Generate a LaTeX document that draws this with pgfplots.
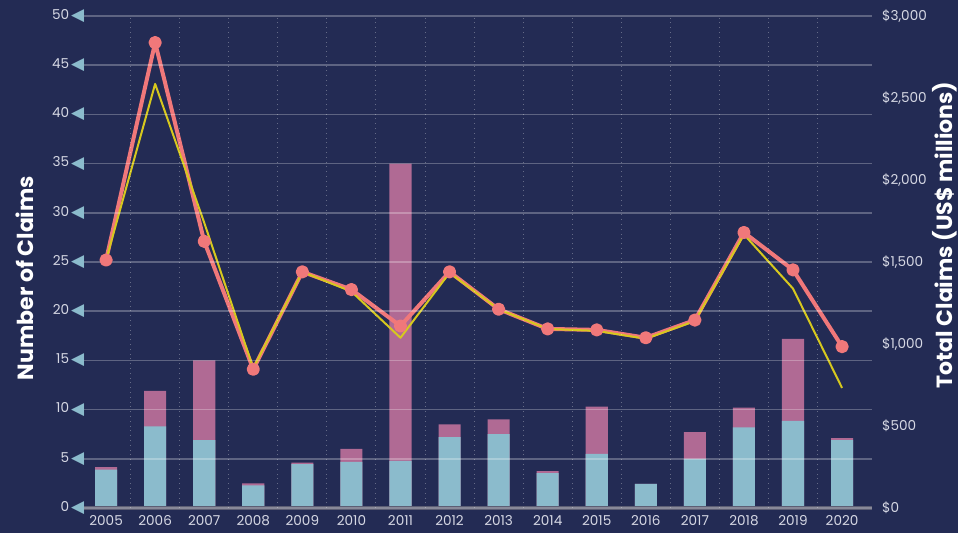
\documentclass[border=0pt]{standalone}
\usepackage{fontspec}
\setmainfont{Poppins}
\newfontfamily\sym{DejaVu Sans}
\usepackage{pgfplots}
\usepackage{pgfplotstable}
\pgfplotsset{compat=1.18}

\definecolor{bg}{RGB}{35,43,84}
\definecolor{barblue}{RGB}{139,187,204}
\definecolor{barpink}{RGB}{176,106,148}
\definecolor{linered}{RGB}{240,120,122}
\definecolor{lineyel}{RGB}{214,200,30}
\definecolor{zeroc}{RGB}{92,94,116}
\definecolor{tickc}{RGB}{214,216,228}
\definecolor{tri}{RGB}{139,187,204}

% year index, blue part, bar total, red line, yellow line (left-axis units)
\pgfplotstableread{
x blue total red yellow
0 3.9 4.15 25.2 25.2
1 8.3 11.9 47.3 43.1
2 6.9 15.0 27.1 29.0
3 2.3 2.5 14.1 14.2
4 4.45 4.6 24.0 24.0
5 4.7 6.0 22.2 22.0
6 4.8 35.0 18.5 17.3
7 7.2 8.5 24.0 23.9
8 7.5 9.0 20.2 20.2
9 3.55 3.75 18.2 18.2
10 5.5 10.3 18.1 18.0
11 2.45 2.45 17.3 17.2
12 5.0 7.7 19.1 19.0
13 8.2 10.2 28.0 27.8
14 8.85 17.2 24.2 22.3
15 6.9 7.1 16.4 12.2
}\data

\begin{document}
\begin{tikzpicture}
\fill[bg] (0,0) rectangle (479pt,-266.5pt);
\useasboundingbox (0,0) rectangle (479pt,-266.5pt);

\begin{axis}[
  at={(42pt,-254pt)}, anchor=south west,
  scale only axis, width=394pt, height=246pt,
  xmin=-0.45, xmax=15.61, ymin=0, ymax=50,
  axis line style={draw=none},
  major tick length=0, minor tick length=0,
  xtick={0,...,15},
  xticklabels={2005,2006,2007,2008,2009,2010,2011,2012,2013,2014,2015,2016,2017,2018,2019,2020},
  minor xtick={0.5,1.5,...,14.5},
  xminorgrids, ymajorgrids,
  minor grid style={white, opacity=0.3, dotted, line width=0.5pt},
  major grid style={white, opacity=0.27, line width=0.75pt},
  ytick={0,5,...,50},
  yticklabel={\pgfmathprintnumber{\tick}\hspace{1pt}{\sym\fontsize{8.5}{8.5}\selectfont\color{tri}\raisebox{-0.6pt}{◀}}},
  yticklabel style={inner sep=0pt, xshift=0.3pt},
  tick label style={font=\fontsize{6.8}{8}\selectfont, color=tickc},
  /pgf/number format/assume math mode=true,
  axis on top,
  clip=false,
]
\addplot[ybar, bar width=0.45, fill=barpink, draw=none] table[x=x,y=total]{\data};
\addplot[ybar, bar width=0.45, fill=barblue, draw=none] table[x=x,y=blue]{\data};
\draw[zeroc, line width=1.6pt] (axis cs:-0.45,0) -- (axis cs:15.61,0);
\addplot[linered, line width=2pt, line join=round, mark=*, mark size=2.3pt,
  mark options={solid, fill=linered, draw=none}] table[x=x,y=red]{\data};
\addplot[lineyel, line width=1pt, line join=round, no marks] table[x=x,y=yellow]{\data};
\end{axis}

\begin{axis}[
  at={(42pt,-254pt)}, anchor=south west,
  scale only axis, width=394pt, height=246pt,
  xmin=-0.45, xmax=15.61, ymin=0, ymax=3000,
  axis x line=none, axis y line*=right,
  y axis line style={draw=none},
  major tick length=0,
  ytick={0,500,...,3000},
  yticklabel={\$\pgfmathprintnumber{\tick}},
  /pgf/number format/1000 sep={,},
  /pgf/number format/assume math mode=true,
  yticklabel style={anchor=west, xshift=1.5pt},
  tick label style={font=\fontsize{6.8}{8}\selectfont, color=tickc},
]
\addplot[draw=none] coordinates {(0,0)};
\end{axis}

\node[rotate=90, anchor=base, font=\bfseries\fontsize{11}{13}\selectfont, white]
  at (16.5pt,-139pt) {Number of Claims};
\node[rotate=90, anchor=base, font=\bfseries\fontsize{11}{13}\selectfont, white]
  at (476pt,-117.5pt) {Total Claims (US\$ millions)};
\end{tikzpicture}
\end{document}
